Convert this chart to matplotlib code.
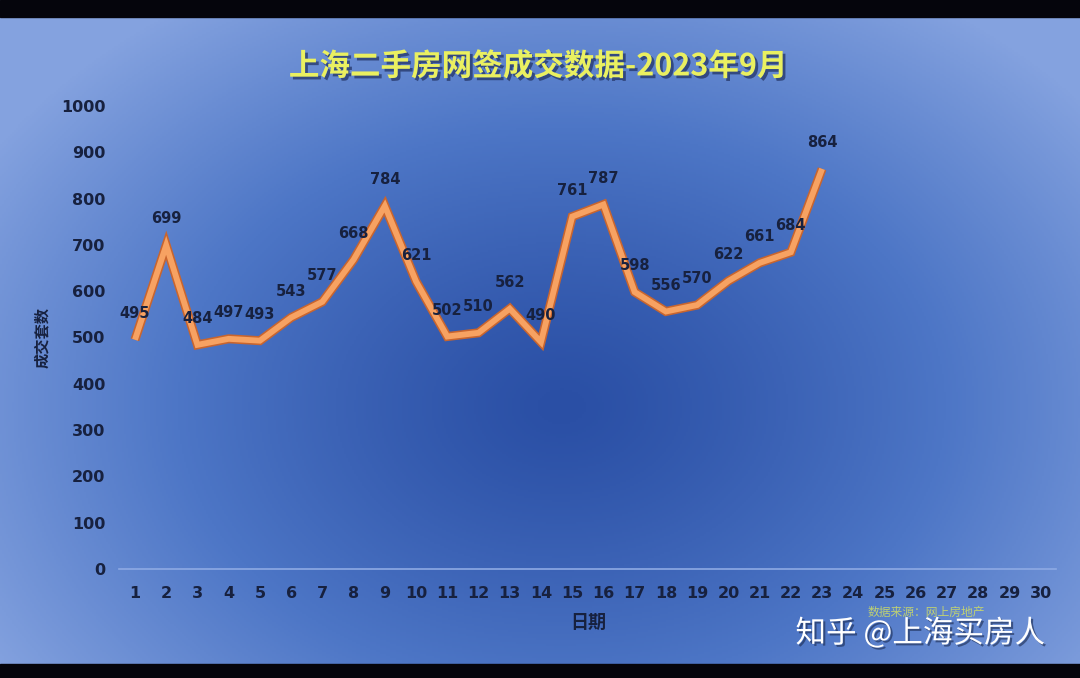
import matplotlib
matplotlib.use("Agg")
from matplotlib import pyplot as plt
from matplotlib.colors import LinearSegmentedColormap
import matplotlib.patheffects as pe
import numpy as np

plt.rcParams['font.family'] = ['Noto Sans CJK SC', 'DejaVu Sans']

# 数据
days = list(range(1, 31))
deal_days = list(range(1, 24))
deals = [495, 699, 484, 497, 493, 543, 577, 668, 784, 621, 502, 510, 562,
         490, 761, 787, 598, 556, 570, 622, 661, 684, 864]
y_ticks = [0, 100, 200, 300, 400, 500, 600, 700, 800, 900, 1000]

title = "上海二手房网签成交数据-2023年9月"
x_label = "日期"
y_label = "成交套数"
source = "数据来源：网上房地产"
watermark = "知乎 @上海买房人"

num_font = ['DejaVu Sans']
ink = "#17213f"

fig = plt.figure(figsize=(10.8, 6.78), dpi=100)

# 背景：径向渐变 + 上下黑边
bg = fig.add_axes([0, 0, 1, 1])
bg.set_axis_off()
gx, gy = np.meshgrid(np.linspace(0, 1, 540), np.linspace(0, 1, 339))
r = np.sqrt(((gx - 0.52) / 0.62) ** 2 + ((gy - 0.6) / 0.72) ** 2)
r = np.clip(r, 0, 1) ** 1.25
cmap = LinearSegmentedColormap.from_list("bg", ["#2a4fa5", "#4d76c6", "#84a2df"])
bg.imshow(r, cmap=cmap, extent=[0, 1, 0, 1], aspect="auto", origin="upper")
bg.axhspan(0.975, 1.0, color="#05050c")
bg.axhspan(0.0, 0.021, color="#05050c")
bg.set_xlim(0, 1)
bg.set_ylim(0, 1)

ax = fig.add_axes([0.1105, 0.1608, 0.8676, 0.683])
ax.patch.set_alpha(0)
ax.plot(deal_days, deals, color="#c9652e", lw=6.5, solid_joinstyle="miter",
        solid_capstyle="butt", zorder=3)
ax.plot(deal_days, deals, color="#f7a262", lw=4.2, solid_joinstyle="miter",
        solid_capstyle="butt", zorder=4)

for d, v in zip(deal_days, deals):
    ax.annotate(str(v), (d, v), xytext=(0, 19), textcoords="offset points",
                ha="center", va="center", fontsize=10.5, fontweight="bold",
                family=num_font, color=ink, zorder=5)

ax.set_xlim(0.5, 30.5)
ax.set_ylim(0, 1000)
ax.set_xticks(days)
ax.set_yticks(y_ticks)
ax.tick_params(length=0, labelsize=11.5, labelcolor=ink)
ax.tick_params(axis="x", pad=12)
ax.tick_params(axis="y", pad=10)
for lab in ax.get_xticklabels() + ax.get_yticklabels():
    lab.set_fontweight("bold")
    lab.set_family(num_font)
for s in ["top", "right", "left"]:
    ax.spines[s].set_visible(False)
ax.spines["bottom"].set_color("#8eaae4")
ax.spines["bottom"].set_linewidth(1.2)

ax.set_xlabel(x_label, fontsize=13, fontweight="bold", color=ink, labelpad=9)
ax.set_ylabel(y_label, fontsize=11, fontweight="bold", color=ink, labelpad=8)

fig.text(0.498, 0.902, title, ha="center", va="center", fontsize=22,
         fontweight="bold", color="#eaf060",
         path_effects=[pe.withSimplePatchShadow(offset=(2, -2), shadow_rgbFace="#203060", alpha=0.7)])
fig.text(0.858, 0.097, source, ha="center", va="center", fontsize=8.5,
         color="#c9d96a", alpha=0.9)
fig.text(0.852, 0.066, watermark, ha="center", va="center", fontsize=22,
         color="white",
         path_effects=[pe.withSimplePatchShadow(offset=(1.5, -1.5), shadow_rgbFace="#1a2a50", alpha=0.6)])

fig.savefig("out.png", dpi=100)
